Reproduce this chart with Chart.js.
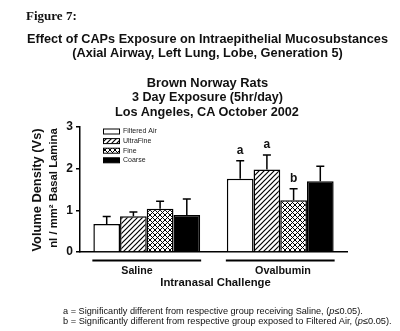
<!DOCTYPE html>
<html><head><meta charset="utf-8">
<script src="https://cdn.jsdelivr.net/npm/chart.js@4/dist/chart.umd.min.js"></script>
<style>
html,body{margin:0;padding:0;background:#fff;width:400px;height:331px;overflow:hidden;}
#wrap{position:relative;width:400px;height:331px;}
canvas{position:absolute;left:0;top:0;}
.t{position:absolute;white-space:nowrap;line-height:1;color:#111;font-family:"Liberation Sans",Arial,sans-serif;font-weight:bold;}
.c{transform:translate(-50%,-50%);}
.l{transform:translateY(-50%);}
.r{transform:translate(-50%,-50%) rotate(-90deg);}
</style></head>
<body><div id="wrap"><canvas id="ch" width="400" height="331"></canvas></div>
<script>
// ---- data ----
const categories = ['Saline', 'Ovalbumin'];
const seriesNames = ['Filtered Air', 'UltraFine', 'Fine', 'Coarse'];
const filteredAir = [0.67, 1.76];
const filteredAirErr = [0.18, 0.43];
const ultraFine = [0.86, 1.98];
const ultraFineErr = [0.10, 0.35];
const fine = [1.04, 1.24];
const fineErr = [0.18, 0.28];
const coarse = [0.89, 1.70];
const coarseErr = [0.38, 0.36];
const filteredAirSig = ['', 'a'];
const ultraFineSig = ['', 'a'];
const fineSig = ['', 'b'];
const coarseSig = ['', ''];
const yTicks = [0, 1, 2, 3];
const xAxisTitle = 'Intranasal Challenge';
const yAxisTitle = ['Volume Density (Vs)', 'nl / mm\u00B2 Basal Lamina'];

// ---- text overlays ----
const wrap = document.getElementById('wrap');
function addText(html, cls, x, y, w, opts) {
  opts = opts || {};
  const d = document.createElement('div');
  d.className = 't ' + cls;
  d.innerHTML = html;
  d.style.left = x + 'px'; d.style.top = y + 'px';
  d.style.fontSize = (opts.size || 12) + 'px';
  if (opts.family) d.style.fontFamily = opts.family;
  if (opts.weight) d.style.fontWeight = opts.weight;
  d.dataset.w = w;
  wrap.appendChild(d);
  return d;
}
addText('Figure 7:', 'l', 26, 16, 51, {family: '"Liberation Serif","Times New Roman",serif', size: 12});
addText('Effect of CAPs Exposure on Intraepithelial Mucosubstances', 'c', 207.5, 38.5, 361);
addText('(Axial Airway, Left Lung, Lobe, Generation 5)', 'c', 207.5, 53, 271);
addText('Brown Norway Rats', 'c', 207.5, 82.5, 121);
addText('3 Day Exposure (5hr/day)', 'c', 207.5, 97, 151);
addText('Los Angeles, CA October 2002', 'c', 207, 112, 184);
addText(categories[0], 'c', 137, 270, 31, {size: 11});
addText(categories[1], 'c', 283, 270, 56, {size: 11});
addText(xAxisTitle, 'c', 215.5, 283, 111, {size: 11});
addText(yAxisTitle[0], 'r', 37, 190, 123);
addText(yAxisTitle[1], 'r', 54, 188, 120);
addText('a = Significantly different from respective group receiving Saline, (<i>p</i>\u22640.05).', 'l', 63, 312, 300, {size: 8, weight: 'normal'});
addText('b = Significantly different from respective group exposed to Filtered Air, (<i>p</i>\u22640.05).', 'l', 63, 322, 328, {size: 8, weight: 'normal'});
function fitAll() {
  document.querySelectorAll('.t').forEach(d => {
    const target = parseFloat(d.dataset.w);
    const fs = parseFloat(d.style.fontSize);
    const w = d.offsetWidth;
    if (w > 0) d.style.fontSize = (fs * target / w).toFixed(2) + 'px';
  });
}
fitAll();
if (document.fonts && document.fonts.ready) document.fonts.ready.then(fitAll);

// ---- patterns ----
const ctx = document.getElementById('ch').getContext('2d');
function makePattern(size, cross, lw) {
  const c = document.createElement('canvas');
  c.width = c.height = size;
  const g = c.getContext('2d');
  g.fillStyle = '#fff'; g.fillRect(0, 0, size, size);
  g.strokeStyle = '#000'; g.lineWidth = lw;
  g.beginPath();
  g.moveTo(-1, size + 1); g.lineTo(size + 1, -1);
  g.moveTo(-1, 1); g.lineTo(1, -1);
  g.moveTo(size - 1, size + 1); g.lineTo(size + 1, size - 1);
  if (cross) {
    g.moveTo(-1, -1); g.lineTo(size + 1, size + 1);
    g.moveTo(size - 1, -1); g.lineTo(size + 1, 1);
    g.moveTo(-1, size - 1); g.lineTo(1, size + 1);
  }
  g.stroke();
  return ctx.createPattern(c, 'repeat');
}
const hatchPat = makePattern(5, false, 1.2);
const crossPat = makePattern(5, true, 1.0);

const errs = [filteredAirErr, ultraFineErr, fineErr, coarseErr];
const sigs = [filteredAirSig, ultraFineSig, fineSig, coarseSig];

const extras = {
  id: 'extras',
  afterDatasetsDraw(chart) {
    const c = chart.ctx, ys = chart.scales.y, xs = chart.scales.x;
    c.save();
    c.strokeStyle = '#000'; c.fillStyle = '#111';
    chart.data.datasets.forEach((ds, i) => {
      const meta = chart.getDatasetMeta(i);
      meta.data.forEach((bar, j) => {
        const v = ds.data[j];
        const yTop = ys.getPixelForValue(v);
        const yE = ys.getPixelForValue(v + errs[i][j]);
        c.lineWidth = 1.5;
        c.beginPath();
        c.moveTo(bar.x, yTop); c.lineTo(bar.x, yE);
        c.moveTo(bar.x - 4, yE); c.lineTo(bar.x + 4, yE);
        c.stroke();
        if (sigs[i][j]) {
          c.font = 'bold 12px "Liberation Sans", Arial, sans-serif';
          c.textAlign = 'center'; c.textBaseline = 'middle';
          c.fillText(sigs[i][j], bar.x, yE - 10);
        }
      });
    });
    // group underlines
    const cw = (xs.right - xs.left) / categories.length;
    categories.forEach((cat, j) => {
      const cx = xs.getPixelForValue(j);
      c.lineWidth = 2;
      c.beginPath();
      c.moveTo(cx - cw * 0.4 - 1, 260.5); c.lineTo(cx + cw * 0.4 + 1, 260.5);
      c.stroke();
    });
    // legend
    const lx = 103, ly0 = 131.5, dy = 9.6;
    c.font = '7px "Liberation Sans", Arial, sans-serif';
    c.textAlign = 'left'; c.textBaseline = 'middle';
    chart.data.datasets.forEach((ds, i) => {
      const y = ly0 + i * dy;
      c.fillStyle = ds.backgroundColor;
      c.fillRect(lx, y - 2.5, 16, 5);
      c.lineWidth = 1; c.strokeStyle = '#000';
      c.strokeRect(lx + 0.5, y - 2.5, 16, 5);
      c.fillStyle = '#222';
      c.fillText(ds.label, lx + 20, y);
    });
    c.restore();
  }
};

new Chart(ctx, {
  type: 'bar',
  data: {
    labels: categories,
    datasets: [
      {label: seriesNames[0], data: filteredAir, backgroundColor: '#ffffff'},
      {label: seriesNames[1], data: ultraFine, backgroundColor: hatchPat},
      {label: seriesNames[2], data: fine, backgroundColor: crossPat},
      {label: seriesNames[3], data: coarse, backgroundColor: '#000000'}
    ].map(d => Object.assign(d, {borderColor: '#000', borderWidth: 1.5, categoryPercentage: 0.8, barPercentage: 1.0}))
  },
  options: {
    responsive: false, animation: false, devicePixelRatio: 1,
    layout: {padding: {left: 0, right: 53, top: 127, bottom: 79}},
    plugins: {legend: {display: false}, tooltip: {enabled: false}, title: {display: false}},
    scales: {
      x: {
        grid: {display: false},
        border: {display: true, color: '#000', width: 1.5},
        ticks: {display: false},
        afterFit(s) { s.height = 0; }
      },
      y: {
        min: yTicks[0], max: yTicks[yTicks.length - 1],
        afterBuildTicks(s) { s.ticks = yTicks.map(v => ({value: v})); },
        grid: {drawOnChartArea: false, drawTicks: true, tickLength: 4, color: '#000', lineWidth: 1.5},
        border: {display: true, color: '#000', width: 1.5},
        ticks: {color: '#111', padding: 3, font: {family: '"Liberation Sans", Arial, sans-serif', size: 12, weight: 'bold'}},
        afterFit(s) { s.width = 80; }
      }
    }
  },
  plugins: [extras]
});
</script></body></html>
